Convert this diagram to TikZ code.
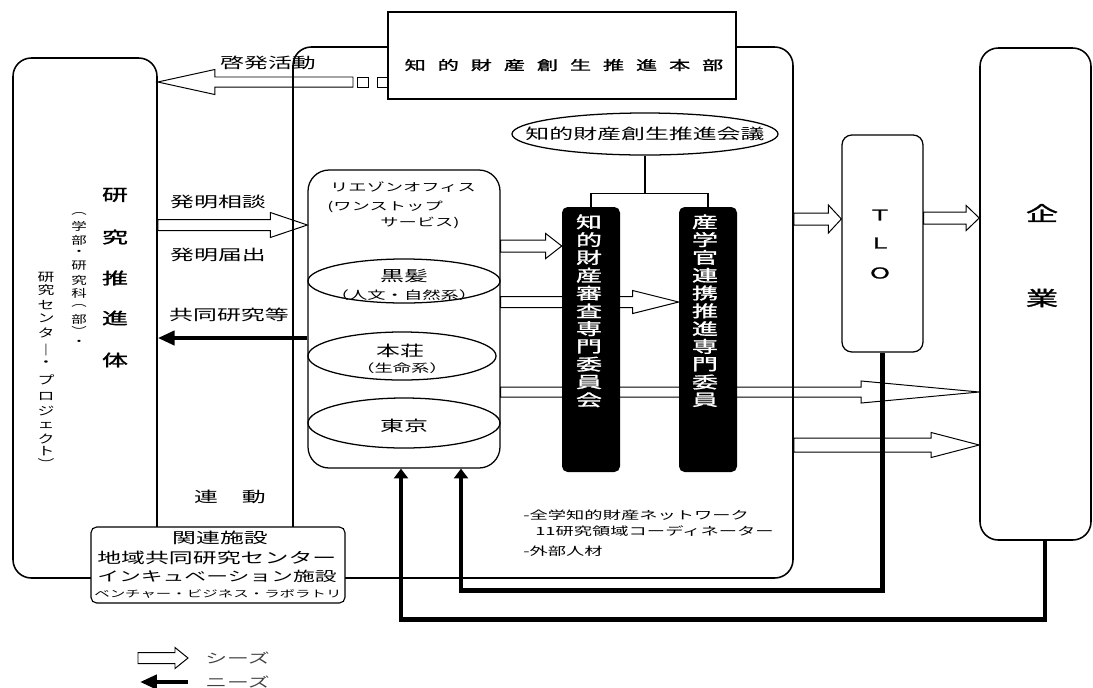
\documentclass[tikz,border=0pt]{standalone}
\usepackage{fontspec}
\setmainfont{Noto Sans CJK JP}
\newfontfamily\jpbold[FakeBold=1.2]{Noto Sans CJK JP}
\usepackage{tikz}
\usetikzlibrary{shapes.geometric, arrows.meta, positioning, calc, fit}
\pgfdeclarelayer{bg}
\pgfsetlayers{bg,main}
\newcommand{\jfont}[1]{\fontsize{#1}{#1}\selectfont}
\newcommand{\jgap}{\hspace{8.5pt}}
% hollow block arrow: start, tip, head offset, head half width, shaft half width
\newcommand{\seedarrow}[5]{%
  \draw[seeds] ($(#1)+(0,#5)$) -- ($(#2)+(#3,#5)$) -- ($(#2)+(#3,#4)$) -- (#2)
    -- ($(#2)+(#3,-#4)$) -- ($(#2)+(#3,-#5)$) -- ($(#1)+(0,-#5)$) -- cycle;}
\tikzset{
  frame/.style={draw, line width=1.1pt, rounded corners=13pt, inner sep=0pt},
  honbu/.style={draw, fill=white, line width=0.8pt, inner sep=0pt},
  liaison/.style={draw, line width=0.9pt, rounded corners=15pt, inner sep=0pt},
  campus/.style={ellipse, draw, line width=0.9pt, inner sep=0pt},
  iinkai/.style={fill=black, rounded corners=4pt, inner sep=0pt},
  tlobox/.style={draw, line width=0.9pt, rounded corners=7pt, inner sep=0pt},
  shisetsu/.style={draw, fill=white, line width=0.8pt, rounded corners=4pt, inner sep=0pt},
  seeds/.style={draw, fill=white, line width=0.7pt, line join=miter},
  needs/.style={line width=3.4pt, -{Triangle[length=7pt, width=10pt]}},
  kyoudou/.style={line width=2.8pt, -{Triangle[length=12pt, width=10pt]}},
  txt/.style={inner sep=0pt, yscale=0.62, transform shape, font=\jfont{17pt}},
  subtxt/.style={txt, font=\jfont{13pt}},
  kan/.style={txt, font={\jfont{18.5pt}\jpbold}},
  tate/.style={inner sep=0pt, yscale=0.7, transform shape, font=\jfont{11pt}},
}

\begin{document}
\begin{tikzpicture}[x=0.025cm, y=-0.025cm]
  \useasboundingbox (0,0) rectangle (1093,687);
  % frames
  \node[frame, fit={(13,58) (157,578)}] (kenkyu) {};
  \node[frame, fit={(293,47) (793,578)}] (chizai) {};
  \node[frame, fit={(980,48) (1091,540)}] (kigyo) {};
  \node[honbu, fit={(388,12) (736,99)}] (honbu) {};
  \node[kan, font={\jfont{15pt}\jpbold}] (honbu-t) at (564,65)
    {知\jgap 的\jgap 財\jgap 産\jgap 創\jgap 生\jgap 推\jgap 進\jgap 本\jgap 部};
  % research side
  \foreach \c/\y [count=\i] in {研/195,究/237,推/278,進/318,体/360}
    \node[kan] (ken-\i) at (115,\y) {\c};
  \foreach \c/\y [count=\i] in {︵/214,学/226,部/240,・/253,研/266,究/280,科/293,︵/306,部/319,︶/331,・/343}
    \node[tate] (gakubu-\i) at (79,\y) {\c};
  \foreach \c/\y [count=\i] in {研/277,究/290,セ/305,ン/318,タ/333,｜/350,・/364,プ/380,ロ/396,ジ/411,ェ/425,ク/439,ト/451,︶/464}
    \node[tate, font=\jfont{12pt}] (center-\i) at (46,\y) {\c};
  % liaison office
  \node[liaison, fit={(308,170) (500,468)}] (liaison) {};
  \node[subtxt] (liaison-t) at (403,187) {リエゾンオフィス};
  \node[subtxt, anchor=west] (stop1) at (327,207) {(ワンストップ};
  \node[subtxt, anchor=west] (stop2) at (380,223) {サービス)};
  \node[campus, minimum width=4.8cm, minimum height=1.1cm] (kurokami) at (404,281) {};
  \node[txt] (kurokami-t) at (404,276) {黒髪};
  \node[subtxt] (kurokami-s) at (404,295) {（人文・自然系）};
  \node[campus, minimum width=4.7cm, minimum height=1.2cm] (honjo) at (402,356) {};
  \node[txt] (honjo-t) at (400,351) {本荘};
  \node[subtxt] (honjo-s) at (402,368) {（生命系）};
  \node[campus, minimum width=4.8cm, minimum height=1.25cm] (tokyo) at (404,423) {};
  \node[txt] (tokyo-t) at (404,426) {東京};
  % committees
  \node[campus, minimum width=6.65cm, minimum height=1.05cm] (kaigi) at (645,134) {};
  \node[txt] (kaigi-t) at (kaigi.center) {知的財産創生推進会議};
  \node[iinkai, fit={(562,207) (620,472)}] (sinsa) {};
  \node[iinkai, fit={(679,207) (737,472)}] (renkei) {};
  \foreach \c [count=\i] in {知,的,財,産,審,査,専,門,委,員,会}
    \node[kan, text=white] (sinsa-\i) at (589,204+17.8*\i) {\c};
  \foreach \c [count=\i] in {産,学,官,連,携,推,進,専,門,委,員}
    \node[kan, text=white] (renkei-\i) at (705,204+17.8*\i) {\c};
  \coordinate (bunki) at ($(kaigi.south)+(0,38)$);
  \draw[line width=1pt] (kaigi.south) -- (bunki);
  \draw[line width=1pt] (sinsa.north) |- (bunki) -| (renkei.north);
  % TLO and companies
  \node[tlobox, fit={(842,135) (923,352)}] (tlo) {};
  \foreach \c/\y [count=\i] in {Ｔ/215,Ｌ/243,Ｏ/273}
    \node[kan, font={\jfont{17pt}\jpbold}] (tlo-\i) at (880,\y) {\c};
  \node[kan, font={\jfont{23pt}\jpbold}] (ki) at (1042,213) {企};
  \node[kan, font={\jfont{23pt}\jpbold}] (gyo) at (1042,298) {業};
  % seeds (hollow arrows)
  \begin{pgfonlayer}{bg}
    \coordinate (keihatsu-s) at (353,82);
    \coordinate (keihatsu-t) at (kenkyu.east |- 0,82);
    \seedarrow{keihatsu-s}{keihatsu-t}{57}{12.5}{5}
    \draw[seeds] (357,77) rectangle (368,87);
    \draw[seeds] (377,77) rectangle (390,87);
    \coordinate (soudan-s) at (kenkyu.east |- 0,225);
    \coordinate (soudan-t) at (liaison.west |- 0,225);
    \seedarrow{soudan-s}{soudan-t}{-37}{12.5}{5.5}
    \coordinate (a-s) at (liaison.east |- 0,246);
    \coordinate (a-t) at (sinsa.west |- 0,246);
    \seedarrow{a-s}{a-t}{-16}{12.5}{6}
    \coordinate (b-s) at (liaison.east |- 0,302);
    \coordinate (b-t) at (renkei.west |- 0,302);
    \seedarrow{b-s}{b-t}{-46}{11.5}{5.5}
    \coordinate (c-s) at (liaison.east |- 0,392);
    \coordinate (c-t) at (kigyo.west |- 0,392);
    \seedarrow{c-s}{c-t}{-118}{11}{5}
    \coordinate (d-s) at (chizai.east |- 0,445);
    \coordinate (d-t) at (kigyo.west |- 0,445);
    \seedarrow{d-s}{d-t}{-48}{12.5}{7}
    \coordinate (tlo-s) at (chizai.east |- 0,219);
    \coordinate (tlo-t) at (tlo.west |- 0,219);
    \seedarrow{tlo-s}{tlo-t}{-13}{14}{6}
    \coordinate (ki-s) at (tlo.east |- 0,218);
    \coordinate (ki-t) at (kigyo.west |- 0,218);
    \seedarrow{ki-s}{ki-t}{-13}{12.5}{6}
  \end{pgfonlayer}
  % needs (black arrows)
  \draw[kyoudou] (liaison.west |- 0,338) -- (kenkyu.east |- 0,338);
  \draw[needs] (tlo.south) -- ++(0,238) -| (liaison.south -| 461,0);
  \draw[needs] (kigyo.south -| 1045,0) -- ++(0,79) -| (liaison.south -| 401,0);
  % labels
  \node[txt] (keihatsu-l) at (268,63) {啓発活動};
  \node[txt] (soudan-l) at (218,202) {発明相談};
  \node[txt] (todoke-l) at (218,255) {発明届出};
  \node[txt] (kyoudou-l) at (229,315) {共同研究等};
  \node[txt] (rendou-l) at (230,497) {連　動};
  \node[subtxt, anchor=west] (net-1) at (523,515) {-全学知的財産ネットワーク};
  \node[subtxt, anchor=west] (net-2) at (535,531) {11研究領域コーディネーター};
  \node[subtxt, anchor=west] (net-3) at (523,551) {-外部人材};
  % related facilities
  \node[shisetsu, fit={(91,527) (345,603)}] (shisetsu) {};
  \node[txt] (shisetsu-t) at (220,538) {関連施設};
  \node[txt, anchor=west] (shisetsu-1) at (97,558) {地域共同研究センター};
  \node[txt, anchor=west, font=\jfont{15.5pt}] (shisetsu-2) at (97,576) {インキュベーション施設};
  \node[txt, anchor=west, font=\jfont{11pt}] (shisetsu-3) at (94,594) {ベンチャー・ビジネス・ラボラトリ};
  % legend
  \coordinate (leg-s) at (138,658);
  \coordinate (leg-t) at (188,658);
  \seedarrow{leg-s}{leg-t}{-13}{10.5}{5.5}
  \node[txt, anchor=west, font=\jfont{15.5pt}, text=black!75] (leg-seeds) at (205,658) {シーズ};
  \coordinate (leg2-s) at (188,682);
  \coordinate (leg2-t) at (140,682);
  \draw[kyoudou] (leg2-s) -- (leg2-t);
  \node[txt, anchor=west, font=\jfont{15.5pt}, text=black!75] (leg-needs) at (205,682) {ニーズ};
\end{tikzpicture}
\end{document}
